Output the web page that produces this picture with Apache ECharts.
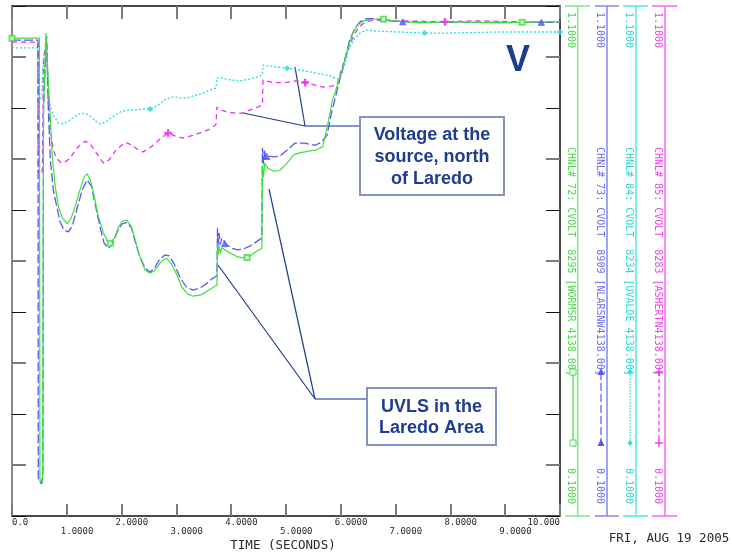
<!DOCTYPE html>
<html><head><meta charset="utf-8">
<script src="https://cdn.jsdelivr.net/npm/echarts@6/dist/echarts.min.js"></script>
<style>html,body{margin:0;padding:0;background:#fff;}#c{width:732px;height:556px;}</style>
</head><body><div id="c"></div>
<script>
// ---------- data ----------
const xTickValues = [0,1,2,3,4,5,6,7,8,9,10];
const xTickLabels = ['0.0','1.0000','2.0000','3.0000','4.0000','5.0000','6.0000','7.0000','8.0000','9.0000','10.000'];
const yMajorTicks = [0.2,0.4,0.6,0.8,1.0];
const xTitle = 'TIME (SECONDS)';
const dateLabel = 'FRI, AUG 19 2005';
const axisMaxLabel = '1.1000';
const axisMinLabel = '0.1000';
const channelLabels = [
  'CHNL# 72: CVOLT  8295 [WORMSR 4138.00]',
  'CHNL# 73: CVOLT  8909 [NLARSNW4138.00]',
  'CHNL# 84: CVOLT  8234 [UVALDE 4138.00]',
  'CHNL# 85: CVOLT  8283 [ASHERTN4138.00]'
];
const annotationSource = 'Voltage at the\nsource, north\nof Laredo';
const annotationUVLS = 'UVLS in the\nLaredo Area';
const unitLabel = 'V';

const green = [[0,1.037],[0.50,1.037],[0.51,0.169],[0.56,0.165],[0.575,0.90],[0.62,1.047],[0.66,0.955],[0.70,0.877],[0.74,0.80],[0.79,0.745],[0.85,0.706],[0.92,0.684],[1.01,0.673],[1.08,0.684],[1.16,0.710],[1.25,0.743],[1.32,0.765],[1.37,0.771],[1.43,0.759],[1.50,0.727],[1.57,0.690],[1.67,0.655],[1.74,0.639],[1.79,0.635],[1.87,0.645],[1.94,0.665],[2.01,0.678],[2.10,0.680],[2.18,0.667],[2.25,0.641],[2.34,0.606],[2.43,0.582],[2.52,0.576],[2.61,0.582],[2.70,0.596],[2.78,0.604],[2.83,0.604],[2.90,0.596],[3.00,0.575],[3.10,0.549],[3.21,0.535],[3.30,0.531],[3.43,0.533],[3.54,0.539],[3.65,0.547],[3.74,0.553],[3.75,0.635],[3.76,0.612],[3.78,0.630],[3.80,0.614],[3.83,0.626],[3.91,0.620],[4.01,0.614],[4.12,0.608],[4.23,0.606],[4.34,0.610],[4.45,0.618],[4.56,0.625],[4.57,0.788],[4.59,0.765],[4.61,0.792],[4.67,0.782],[4.78,0.776],[4.89,0.778],[5.02,0.792],[5.14,0.808],[5.25,0.812],[5.44,0.816],[5.56,0.818],[5.67,0.824],[5.76,0.867],[5.85,0.916],[5.95,0.949],[6.04,0.980],[6.13,1.018],[6.22,1.047],[6.31,1.063],[6.42,1.071],[6.53,1.073],[6.71,1.075],[6.98,1.071],[7.44,1.067],[8.17,1.069],[8.90,1.067],[9.63,1.069],[10,1.069]];
const blue = [[0,1.033],[0.475,1.033],[0.48,0.171],[0.54,0.163],[0.565,0.190],[0.575,0.90],[0.63,1.041],[0.663,0.896],[0.70,0.798],[0.754,0.739],[0.81,0.710],[0.88,0.676],[0.95,0.661],[1.03,0.657],[1.10,0.669],[1.19,0.704],[1.28,0.739],[1.37,0.759],[1.45,0.747],[1.52,0.710],[1.61,0.665],[1.68,0.635],[1.76,0.625],[1.83,0.633],[1.92,0.657],[2.01,0.673],[2.10,0.676],[2.18,0.665],[2.25,0.637],[2.34,0.606],[2.43,0.586],[2.52,0.578],[2.61,0.588],[2.70,0.604],[2.79,0.612],[2.87,0.610],[2.96,0.594],[3.07,0.567],[3.18,0.549],[3.30,0.543],[3.43,0.547],[3.54,0.555],[3.65,0.565],[3.74,0.571],[3.75,0.665],[3.76,0.630],[3.78,0.655],[3.80,0.632],[3.83,0.645],[3.91,0.633],[4.01,0.625],[4.12,0.622],[4.23,0.624],[4.34,0.629],[4.45,0.637],[4.56,0.645],[4.57,0.822],[4.59,0.790],[4.61,0.818],[4.63,0.800],[4.67,0.806],[4.78,0.804],[4.89,0.806],[5.03,0.818],[5.16,0.831],[5.34,0.831],[5.53,0.827],[5.65,0.833],[5.75,0.847],[5.82,0.886],[5.89,0.916],[5.98,0.955],[6.07,0.994],[6.16,1.033],[6.26,1.057],[6.35,1.069],[6.46,1.075],[6.57,1.075],[6.80,1.071],[7.44,1.068],[8.17,1.068],[8.90,1.068],[9.63,1.068],[10,1.068]];
const cyan = [[0,1.018],[0.48,1.018],[0.49,0.916],[0.54,0.922],[0.565,0.925],[0.575,0.994],[0.63,1.030],[0.663,0.935],[0.70,0.902],[0.754,0.886],[0.845,0.871],[0.92,0.869],[1.01,0.873],[1.10,0.880],[1.21,0.888],[1.34,0.890],[1.43,0.884],[1.52,0.875],[1.61,0.869],[1.72,0.873],[1.85,0.884],[1.97,0.892],[2.10,0.896],[2.25,0.896],[2.39,0.898],[2.52,0.898],[2.65,0.904],[2.79,0.916],[2.94,0.922],[3.07,0.920],[3.20,0.920],[3.32,0.924],[3.43,0.927],[3.56,0.933],[3.72,0.939],[3.74,0.959],[3.83,0.959],[3.98,0.955],[4.16,0.953],[4.34,0.957],[4.49,0.961],[4.57,0.965],[4.58,0.984],[4.71,0.982],[4.85,0.980],[5.02,0.978],[5.22,0.975],[5.44,0.971],[5.62,0.967],[5.80,0.963],[5.95,0.957],[6.02,0.965],[6.09,0.994],[6.16,1.020],[6.26,1.037],[6.35,1.047],[6.46,1.053],[6.62,1.051],[7.07,1.049],[7.51,1.047],[7.99,1.047],[8.90,1.049],[10,1.049]];
const magenta = [[0,1.029],[0.472,1.029],[0.48,0.775],[0.52,0.769],[0.555,0.778],[0.575,0.994],[0.63,1.041],[0.663,0.916],[0.70,0.857],[0.754,0.818],[0.81,0.802],[0.88,0.794],[0.95,0.792],[1.06,0.802],[1.19,0.822],[1.34,0.835],[1.43,0.829],[1.54,0.812],[1.67,0.792],[1.77,0.798],[1.90,0.818],[2.07,0.833],[2.19,0.827],[2.30,0.818],[2.39,0.814],[2.52,0.822],[2.70,0.839],[2.85,0.851],[2.98,0.845],[3.12,0.841],[3.25,0.845],[3.43,0.851],[3.58,0.857],[3.72,0.867],[3.74,0.902],[3.83,0.896],[3.92,0.892],[4.07,0.890],[4.20,0.890],[4.34,0.896],[4.49,0.902],[4.57,0.906],[4.58,0.955],[4.71,0.951],[4.94,0.949],[5.16,0.953],[5.31,0.951],[5.53,0.945],[5.67,0.941],[5.84,0.943],[5.93,0.945],[6.00,0.971],[6.07,0.994],[6.16,1.024],[6.26,1.047],[6.35,1.061],[6.46,1.069],[6.62,1.073],[7.07,1.071],[7.80,1.069],[8.50,1.071],[9.20,1.069],[10,1.069]];

const greenMarks = [[0,1.037],[1.79,0.635],[4.29,0.607],[6.78,1.074],[9.31,1.068]];
const blueMarks = [[3.88,0.634],[4.65,0.805],[7.13,1.069],[9.66,1.068]];
const cyanMarks = [[2.52,0.898],[5.02,0.978],[7.53,1.047],[10,1.049]];
const magentaMarks = [[2.85,0.851],[5.35,0.950],[7.90,1.069]];

// ---------- chart ----------
const chart = echarts.init(document.getElementById('c'), null, {renderer:'canvas'});
const PLUS = 'path://M4,0h2v4h4v2h-4v4h-2v-4h-4v-2h4z';
const C = {green:'#3ee03e', blue:'#5858f0', cyan:'#22dede', magenta:'#f02cf0'};

function lineSeries(data, color, type, width, z) {
  return {type:'line', data:data, symbol:'none', showSymbol:false, animation:false, z:z,
    lineStyle:{color:color, width:width, type:type}, emphasis:{disabled:true}};
}
function markSeries(data, color, symbol, size, z) {
  return {type:'scatter', data:data, symbol:symbol, symbolSize:size, animation:false, z:z,
    itemStyle:{color:color, borderColor:color, borderWidth:1}, emphasis:{disabled:true}};
}

chart.setOption({
  backgroundColor:'#ffffff',
  animation:false,
  grid:{left:12, top:6, right:172, bottom:40, containLabel:false},
  xAxis:[
    {type:'value', min:0, max:10, interval:1, position:'bottom',
     axisLine:{show:true, onZero:false, lineStyle:{color:'#111', width:1.5}},
     axisTick:{show:true, inside:true, length:12, lineStyle:{color:'#7a7a7a', width:2}},
     axisLabel:{show:false}, splitLine:{show:false}},
    {type:'value', min:0, max:10, interval:1, position:'top',
     axisLine:{show:true, onZero:false, lineStyle:{color:'#111', width:1.5}},
     axisTick:{show:true, inside:true, length:13, lineStyle:{color:'#7a7a7a', width:2}},
     axisLabel:{show:false}, splitLine:{show:false}}
  ],
  yAxis:[
    {type:'value', min:0.1, max:1.1, interval:0.1, position:'left',
     axisLine:{show:true, onZero:false, lineStyle:{color:'#8a8a8a', width:2}},
     axisTick:{show:true, inside:true, length:14, lineStyle:{color:'#111', width:1}},
     axisLabel:{show:false}, splitLine:{show:false}},
    {type:'value', min:0.1, max:1.1, interval:0.1, position:'right',
     axisLine:{show:true, onZero:false, lineStyle:{color:'#111', width:1.5}},
     axisTick:{show:true, inside:true, length:14, lineStyle:{color:'#111', width:1}},
     axisLabel:{show:false}, splitLine:{show:false}}
  ],
  series:[
    lineSeries(cyan, C.cyan, [2,2], 1.3, 2),
    lineSeries(magenta, C.magenta, [5,4], 1.3, 3),
    lineSeries(blue, C.blue, [9,3], 1.3, 4),
    lineSeries(green, C.green, 'solid', 1.2, 5),
    markSeries(cyanMarks, C.cyan, 'diamond', 5, 6),
    markSeries(magentaMarks, C.magenta, PLUS, 7, 6),
    markSeries(blueMarks, C.blue, 'triangle', 6, 6),
    markSeries(greenMarks, C.green, 'emptyRect', 5, 6)
  ]
});

// ---------- decorations ----------
const g = [];
const tickFont = '9px "DejaVu Sans Mono", monospace';
xTickValues.forEach(function(v, i){
  const px = chart.convertToPixel({xAxisIndex:0}, v);
  let x = px - 6, align = 'left';
  if (i === 0) { x = px; }
  if (i === xTickValues.length - 1) { x = px; align = 'right'; }
  g.push({type:'text', x:x, y:(i % 2 === 0 ? 523 : 531.5), silent:true,
    style:{text:xTickLabels[i], fill:'#2a2a2a', font:tickFont, align:align, verticalAlign:'middle'}});
});
// gray major ticks on the left and right frame, placed through the y scale
yMajorTicks.forEach(function(v){
  const py = Math.round(chart.convertToPixel({yAxisIndex:0}, v));
  g.push({type:'line', silent:true, z:50, shape:{x1:12, y1:py, x2:26, y2:py}, style:{stroke:'#7a7a7a', lineWidth:2}});
  g.push({type:'line', silent:true, z:50, shape:{x1:546, y1:py, x2:560, y2:py}, style:{stroke:'#7a7a7a', lineWidth:2}});
});
g.push({type:'text', x:283, y:545.5, silent:true,
  style:{text:xTitle, fill:'#2a2a2a', font:'12.5px "DejaVu Sans Mono", monospace', align:'center', verticalAlign:'middle'}});
g.push({type:'text', x:669, y:538.5, silent:true,
  style:{text:dateLabel, fill:'#2a2a2a', font:'12.5px "DejaVu Sans Mono", monospace', align:'center', verticalAlign:'middle'}});

// right-side channel axes
const chans = [
  {lx:577.7, c0:565, c1:590, tx:571, sx:573, line:'#8ce68c', text:'#4ad84a', col:C.green, dash:null, mk:'rect'},
  {lx:607, c0:595, c1:619, tx:599.5, sx:601, line:'#8c8cf2', text:'#6b6be8', col:C.blue, dash:[8,3], mk:'tri'},
  {lx:636, c0:623, c1:648, tx:628.5, sx:630, line:'#5ce8e8', text:'#2ad6d6', col:C.cyan, dash:[1.5,1.5], mk:'dia'},
  {lx:665, c0:652, c1:677, tx:657.5, sx:659, line:'#f470f4', text:'#ee40ee', col:C.magenta, dash:[4,3], mk:'plus'}
];
const rotFont = '10px "DejaVu Sans Mono", monospace';
chans.forEach(function(c, i){
  g.push({type:'line', silent:true, shape:{x1:c.lx, y1:6, x2:c.lx, y2:516}, style:{stroke:c.line, lineWidth:1.6}});
  g.push({type:'line', silent:true, shape:{x1:c.c0, y1:6, x2:c.c1, y2:6}, style:{stroke:c.line, lineWidth:1.6}});
  g.push({type:'line', silent:true, shape:{x1:c.c0, y1:516, x2:c.c1, y2:516}, style:{stroke:c.line, lineWidth:1.6}});
  g.push({type:'text', silent:true, x:c.tx, y:12, rotation:-Math.PI/2,
    style:{text:axisMaxLabel, fill:c.text, font:rotFont, align:'left', verticalAlign:'middle'}});
  g.push({type:'text', silent:true, x:c.tx, y:147, rotation:-Math.PI/2,
    style:{text:channelLabels[i], fill:c.text, font:rotFont, align:'left', verticalAlign:'middle'}});
  g.push({type:'text', silent:true, x:c.tx, y:468, rotation:-Math.PI/2,
    style:{text:axisMinLabel, fill:c.text, font:rotFont, align:'left', verticalAlign:'middle'}});
  const st = {stroke:c.col, lineWidth:1.2};
  if (c.dash) st.lineDash = c.dash;
  g.push({type:'line', silent:true, shape:{x1:c.sx, y1:372, x2:c.sx, y2:443}, style:st});
  [372, 443].forEach(function(yy){
    if (c.mk === 'rect') g.push({type:'rect', silent:true, shape:{x:c.sx-3, y:yy-3, width:6, height:6}, style:{stroke:c.col, fill:'#fff', lineWidth:1}});
    if (c.mk === 'tri') g.push({type:'polygon', silent:true, shape:{points:[[c.sx, yy-4],[c.sx-3.5, yy+3],[c.sx+3.5, yy+3]]}, style:{fill:c.col}});
    if (c.mk === 'dia') g.push({type:'polygon', silent:true, shape:{points:[[c.sx, yy-3],[c.sx+2.5, yy],[c.sx, yy+3],[c.sx-2.5, yy]]}, style:{fill:c.col}});
    if (c.mk === 'plus') {
      g.push({type:'line', silent:true, shape:{x1:c.sx-4, y1:yy, x2:c.sx+4, y2:yy}, style:{stroke:c.col, lineWidth:1.3}});
      g.push({type:'line', silent:true, shape:{x1:c.sx, y1:yy-4, x2:c.sx, y2:yy+4}, style:{stroke:c.col, lineWidth:1.3}});
    }
  });
});

// annotations
const navy = '#1f3d8f', boxStroke = '#8492c6';
const annFont = 'bold 18px "Liberation Sans", Arial, sans-serif';
g.push({type:'text', silent:true, x:518, y:61, style:{text:unitLabel, fill:navy, font:'bold 36px "Liberation Sans", Arial, sans-serif', align:'center', verticalAlign:'middle'}});
g.push({type:'line', silent:true, shape:{x1:305, y1:126, x2:360, y2:126}, style:{stroke:boxStroke, lineWidth:1.8}});
g.push({type:'line', silent:true, shape:{x1:305, y1:126, x2:243, y2:113}, style:{stroke:navy, lineWidth:1.2}});
g.push({type:'line', silent:true, shape:{x1:305, y1:126, x2:295, y2:67}, style:{stroke:navy, lineWidth:1.2}});
g.push({type:'rect', silent:true, shape:{x:360, y:117, width:144, height:78}, style:{stroke:boxStroke, fill:'#fff', lineWidth:2}});
g.push({type:'text', silent:true, x:432, y:157, style:{text:annotationSource, fill:navy, font:annFont, align:'center', verticalAlign:'middle', lineHeight:22}});
g.push({type:'line', silent:true, shape:{x1:315, y1:399, x2:368, y2:399}, style:{stroke:boxStroke, lineWidth:1.8}});
g.push({type:'line', silent:true, shape:{x1:315, y1:399, x2:218, y2:265}, style:{stroke:navy, lineWidth:1.2}});
g.push({type:'line', silent:true, shape:{x1:315, y1:399, x2:269, y2:189}, style:{stroke:navy, lineWidth:1.2}});
g.push({type:'rect', silent:true, shape:{x:367, y:388, width:129, height:57}, style:{stroke:boxStroke, fill:'#fff', lineWidth:2}});
g.push({type:'text', silent:true, x:431.5, y:417.5, style:{text:annotationUVLS, fill:navy, font:annFont, align:'center', verticalAlign:'middle', lineHeight:21}});

chart.setOption({graphic:{elements:g}});
</script>
</body></html>
